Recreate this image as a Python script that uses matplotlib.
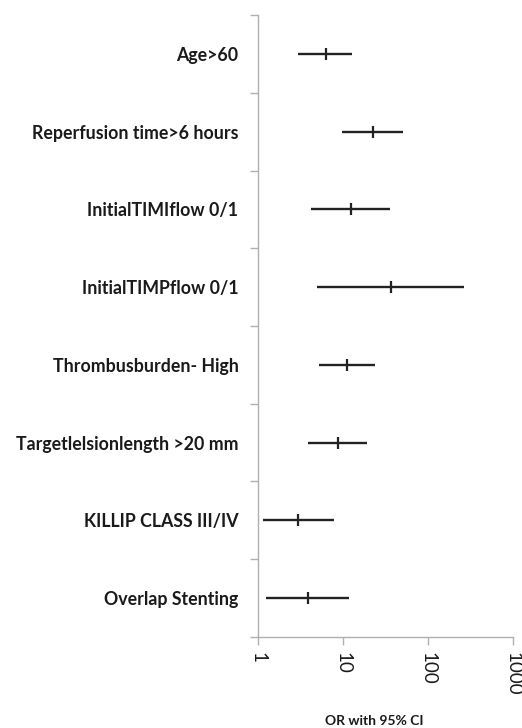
import numpy as np
import matplotlib
matplotlib.use('Agg')
import matplotlib.pyplot as plt
from matplotlib.ticker import FixedLocator, NullFormatter, FixedFormatter

# odds ratios with 95% confidence interval, top row first
labels = ['Age>60', 'Reperfusion time>6 hours', 'InitialTIMIflow 0/1',
          'InitialTIMPflow 0/1', 'Thrombusburden- High',
          'Targetlelsionlength >20 mm', 'KILLIP CLASS III/IV', 'Overlap Stenting']
odds = [6.3, 22.3, 12.3, 37.2, 11.3, 8.7, 3.0, 3.9]
ci_low = [3.0, 9.7, 4.2, 5.0, 5.3, 3.9, 1.15, 1.24]
ci_high = [12.9, 50.5, 35.6, 267, 23.7, 19.3, 7.8, 11.7]
x_ticks = [1, 10, 100, 1000]

plt.rcParams['font.family'] = ['Lato', 'DejaVu Sans']

fig = plt.figure(figsize=(5.22, 7.28), dpi=100)
ax = fig.add_axes([0.494, 0.1254, 0.489, 0.8536])

n = len(labels)
ypos = n - 0.5 - np.arange(n)  # centre of each band

ax.hlines(ypos, ci_low, ci_high, color='#222222', lw=1.7)
ax.plot(odds, ypos, ls='none', marker='|', ms=9, mew=1.6, color='#222222')

ax.set_xscale('log')
ax.set_xlim(1, 1000)
ax.set_ylim(0, n)

ax.xaxis.set_major_locator(FixedLocator(x_ticks))
ax.xaxis.set_major_formatter(FixedFormatter([str(t) for t in x_ticks]))
ax.xaxis.set_minor_locator(FixedLocator([]))
ax.tick_params(axis='x', which='major', length=6, width=1, color='#b0b0b0',
               labelsize=13.5, labelrotation=-90, pad=5, labelcolor='#1a1a1a')

# band boundaries get the tick marks, band centres get the labels
ax.yaxis.set_major_locator(FixedLocator(np.arange(n + 1)))
ax.yaxis.set_major_formatter(NullFormatter())
ax.yaxis.set_minor_locator(FixedLocator(ypos))
ax.yaxis.set_minor_formatter(FixedFormatter(labels))
ax.tick_params(axis='y', which='major', length=6, width=1, color='#b0b0b0')
ax.tick_params(axis='y', which='minor', length=0, pad=14, labelsize=12.8,
               labelcolor='#1a1a1a')
for t in ax.yaxis.get_minorticklabels():
    t.set_fontweight('bold')

for side in ['top', 'right']:
    ax.spines[side].set_visible(False)
for side in ['left', 'bottom']:
    ax.spines[side].set_color('#b0b0b0')
    ax.spines[side].set_linewidth(1)

ax.set_xlabel('OR with 95% CI', fontsize=10, fontweight='bold', color='#1a1a1a')
ax.xaxis.set_label_coords(0.455, -0.126)

fig.savefig('out.png', dpi=100)
